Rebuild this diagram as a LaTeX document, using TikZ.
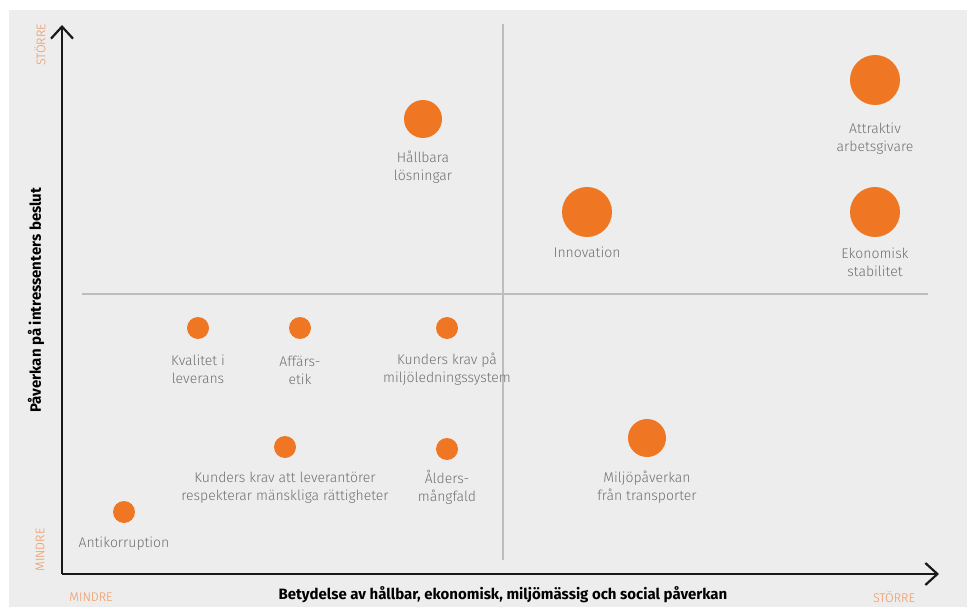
\documentclass[tikz,border=0pt]{standalone}
\usepackage{fontspec}
\setmainfont{Fira Sans Light}[BoldFont=Fira Sans Bold]
\usetikzlibrary{calc,arrows.meta}

\definecolor{bggray}{HTML}{EDEDED}
\definecolor{dotorange}{HTML}{EF7622}
\definecolor{paleorange}{HTML}{F0945A}
\definecolor{labelgray}{HTML}{707070}
\definecolor{divgray}{HTML}{BDBDBD}

\tikzset{
  dot/.style={circle, fill=dotorange, inner sep=0pt, minimum size=#1},
  dot/.default=22pt,
  lbl/.style={text=labelgray, align=center, font=\fontsize{14}{18}\selectfont},
  scaletext/.style={text=paleorange, font=\fontsize{12.5}{14}\selectfont},
  axistitle/.style={font=\bfseries\fontsize{15}{18}\selectfont},
  axis/.style={line width=2.2pt, black!90, -{Straight Barb[length=12pt,width=22pt,line width=2.2pt]}},
  divider/.style={line width=1.4pt, divgray}
}

\begin{document}
\begin{tikzpicture}[x=1pt, y=-1pt]
    % Page and background
    \useasboundingbox (0,0) rectangle (967,607);
    \fill[bggray] (9,10) rectangle (967,607);

    % Define axis points
    \coordinate (O) at (62,574); % origin
    \coordinate (xend) at (939,574); % end of x-axis
    \coordinate (yend) at (62,25); % end of y-axis

    % Quadrant dividers
    \coordinate (vtop) at (503,24);
    \coordinate (vbot) at (503,560);
    \coordinate (hleft) at (82,294);
    \coordinate (hright) at (928,294);
    \draw[divider] (vtop) -- (vbot);
    \draw[divider] (hleft) -- (hright);

    % Axes
    \draw[axis] (O) -- (xend);
    \draw[axis] (O) -- (yend);

    % Axis titles
    \node[axistitle] (xtitle) at (503,595) {Betydelse av hållbar, ekonomisk, miljömässig och social påverkan};
    \node[axistitle, rotate=90] (ytitle) at (36,300) {Påverkan på intressenters beslut};

    % Scale ends
    \node[scaletext] (xmin) at (91,597) {MINDRE};
    \node[scaletext] (xmax) at (894,597) {STÖRRE};
    \node[scaletext, rotate=90] (ymin) at (40,550) {MINDRE};
    \node[scaletext, rotate=90] (ymax) at (40,45) {STÖRRE};

    % Upper half
    \node[dot=38pt] (losn) at (423,119) {};
    \node[lbl] (losnL) at (423,167) {Hållbara\\lösningar};
    \node[dot=50pt] (innov) at (587,212) {};
    \node[lbl] (innovL) at (587,252) {Innovation};
    \node[dot=50pt] (arbg) at (875,80) {};
    \node[lbl] (arbgL) at (875,139) {Attraktiv\\arbetsgivare};
    \node[dot=50pt] (ekon) at (875,212) {};
    \node[lbl] (ekonL) at (875,262) {Ekonomisk\\stabilitet};

    % Lower half
    \node[dot] (kval) at (198,328) {};
    \node[lbl] (kvalL) at (198,369) {Kvalitet i\\leverans};
    \node[dot] (etik) at (300,328) {};
    \node[lbl] (etikL) at (300,370) {Affärs-\\etik};
    \node[dot] (miljo) at (447,328) {};
    \node[lbl] (miljoL) at (447,369) {Kunders krav på\\miljöledningssystem};
    \node[dot] (mansk) at (285,447) {};
    \node[lbl] (manskL) at (285,488) {Kunders krav att leverantörer\\respekterar mänskliga rättigheter};
    \node[dot] (alder) at (447,449) {};
    \node[lbl] (alderL) at (447,487) {Ålders-\\mångfald};
    \node[dot=38pt] (transp) at (647,438) {};
    \node[lbl] (transpL) at (647,487) {Miljöpåverkan\\från transporter};
    \node[dot] (korr) at (124,512) {};
    \node[lbl] (korrL) at (124,544) {Antikorruption};
\end{tikzpicture}
\end{document}
